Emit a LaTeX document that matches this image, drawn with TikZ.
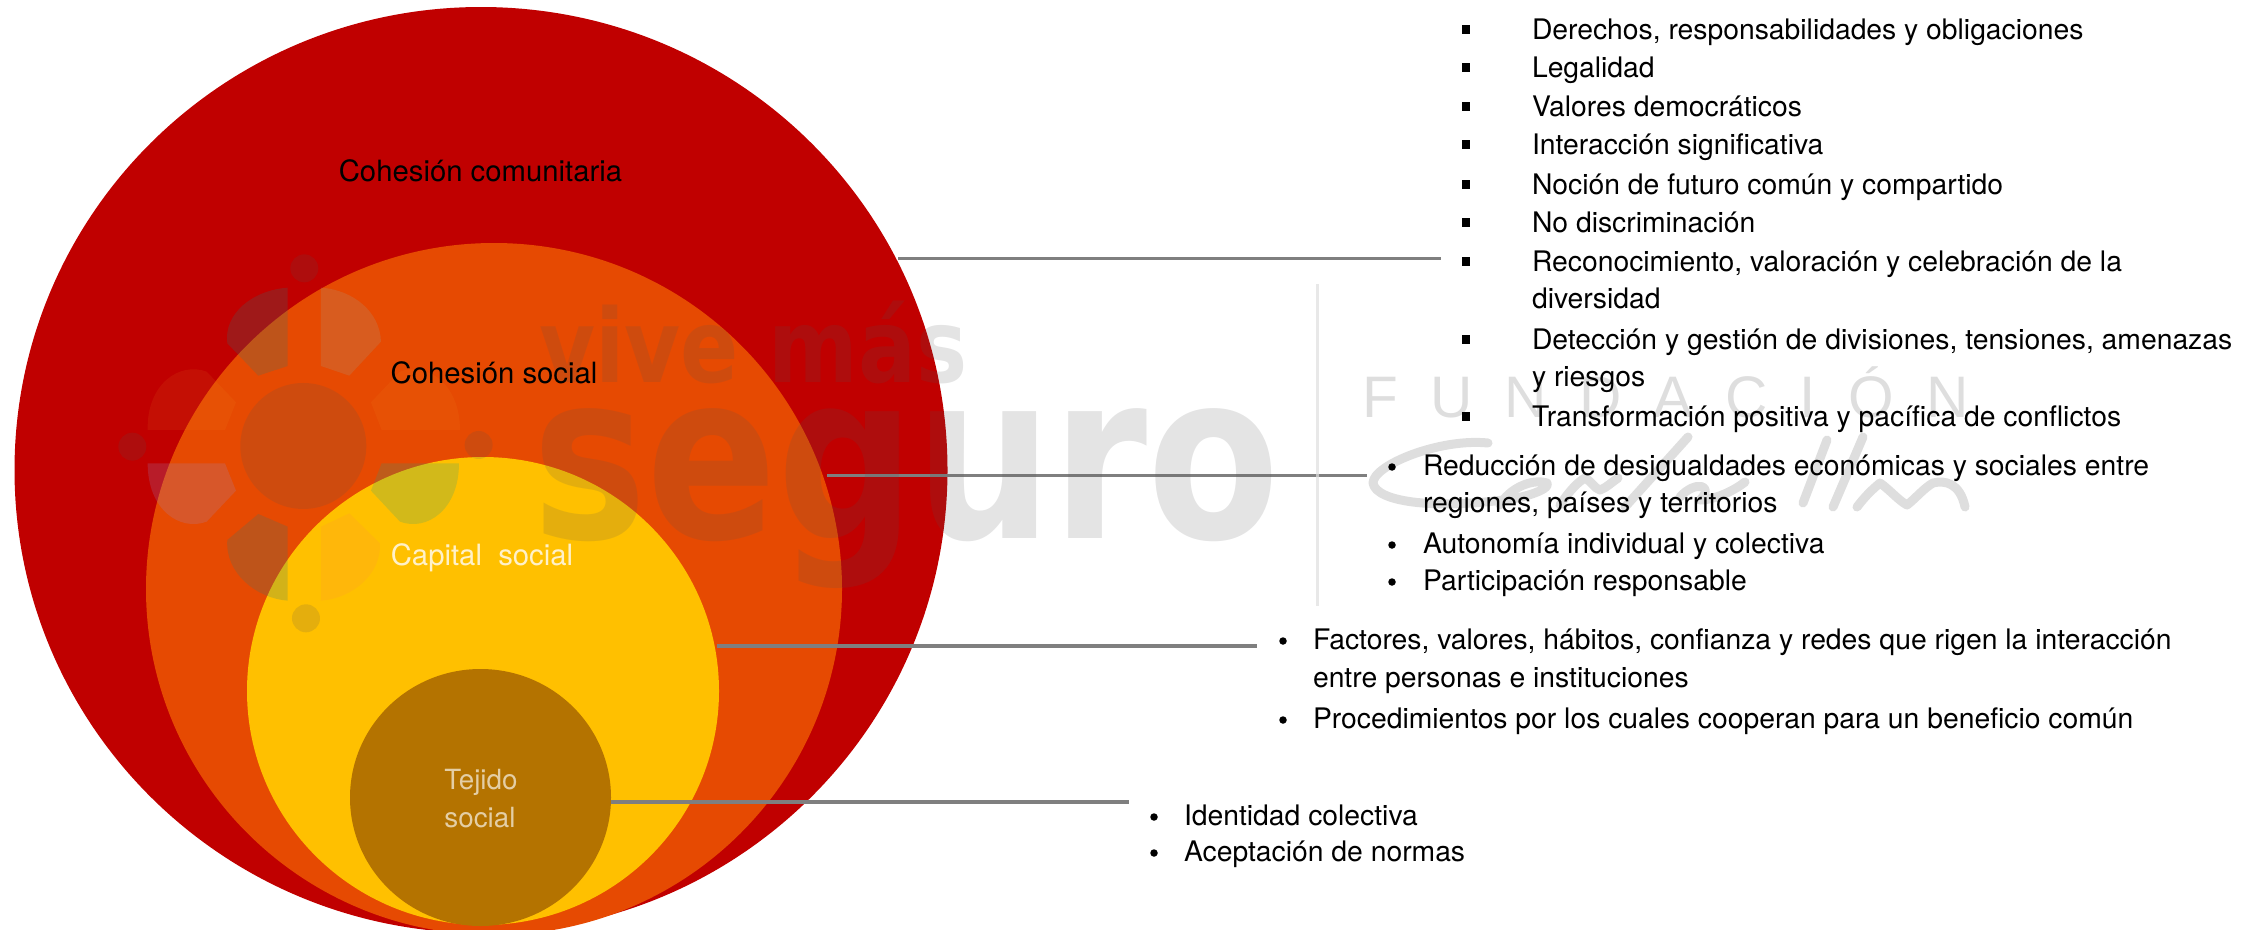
\documentclass[tikz,border=0pt]{standalone}
\usepackage{fontspec}
\usetikzlibrary{shapes.geometric}
\setmainfont{TeX Gyre Heros}
\newfontfamily\wmfont{DejaVu Sans}
\newfontfamily\fundfont[LetterSpace=55]{Liberation Sans}
\definecolor{cred}{RGB}{192,0,0}
\definecolor{corange}{RGB}{230,74,2}
\definecolor{cyellow}{RGB}{255,192,0}
\definecolor{cbrown}{RGB}{180,115,0}
\definecolor{wmgray}{RGB}{83,83,83}
\definecolor{leadgray}{RGB}{127,127,127}
\definecolor{pale}{RGB}{222,222,222}
\definecolor{pTeal}{RGB}{30,125,125}
\definecolor{pGray}{RGB}{160,165,150}
\definecolor{pAmber}{RGB}{240,150,40}
\definecolor{pLilac}{RGB}{155,140,205}
\definecolor{pGreen}{RGB}{30,160,130}
\definecolor{pRose}{RGB}{255,110,100}
\tikzset{
  ring/.style={ellipse,draw=none,inner sep=0pt,outer sep=0pt},
  leader/.style={draw=leadgray,line width=3.2pt},
  txt/.style={anchor=base west,inner sep=0pt,outer sep=0pt,yshift=-.8pt,font=\fontsize{28.3}{34}\selectfont},
  ctxt/.style={anchor=base,inner sep=0pt,outer sep=0pt,yshift=-.8pt,font=\fontsize{29.3}{34}\selectfont},
  ttxt/.style={anchor=base,inner sep=0pt,outer sep=0pt,yshift=-.8pt,font=\fontsize{27.8}{34}\selectfont,text={rgb,255:red,228;green,206;blue,165}},
  sqbul/.style={rectangle,fill=black,inner sep=0pt,minimum width=8pt,minimum height=9pt},
  rbul/.style={circle,fill=black,inner sep=0pt,minimum size=7.5pt},
  wmark/.style={fill=wmgray,fill opacity=.157},
  wmtext/.style={anchor=base west,inner sep=0pt,outer sep=0pt,text=wmgray,text opacity=.157,transform shape},
  sig/.style={draw=pale,line width=9pt,line cap=round,line join=round},
  p1/.style={fill=pTeal,fill opacity=.2},
  p2/.style={fill=pGray,fill opacity=.2},
  p3/.style={fill=pAmber,fill opacity=.1},
  p4/.style={fill=pLilac,fill opacity=.2},
  p5/.style={fill=pGreen,fill opacity=.2},
  p6/.style={fill=pRose,fill opacity=.1},
}
\newcommand{\sqline}[3]{\node[sqbul] (#1b) at (1466,#2-10) {}; \node[txt] (#1) at (1532,#2) {#3};}
\newcommand{\plainline}[4]{\node[txt] (#1) at (#2,#3) {#4};}
\newcommand{\rline}[5]{\node[rbul] (#1b) at (#2,#4-8) {}; \node[txt] (#1) at (#3,#4) {#5};}
\begin{document}
\begin{tikzpicture}[x=1pt,y=-1pt]
\clip (0,0) rectangle (2253,929);
% rings
\node[ring,fill=cred,minimum width=933pt,minimum height=926pt] (outer) at (481,470) {};
\node[ring,fill=corange,minimum width=696pt,minimum height=692pt] (orange) at (494,589) {};
\node[ring,fill=cyellow,minimum width=472pt,minimum height=468pt] (yellow) at (483,691) {};
\node[ring,fill=cbrown,minimum width=261pt,minimum height=257pt] (brown) at (480.5,797.5) {};
% leader ends
\coordinate (e1) at (1441,260);
\coordinate (e2) at (1367,475);
\coordinate (e3) at (1257,646);
\coordinate (e4) at (1129,803);
\draw[leader] ([xshift=2pt]outer.27.25) -- (outer.27.25 -| e1);
\draw[leader] ([xshift=4pt]orange.19.13) -- (orange.19.13 -| e2);
\draw[leader] ([xshift=2pt]yellow.11) -- (yellow.11 -| e3);
\draw[leader] (brown.-2.5) -- (brown.-2.5 -| e4);
% watermark: logo
\begin{scope}[shift={(110,240)},x=.3333pt,y=-.3333pt]
\fill[wmark] (580,618) circle [radius=189pt*.3333];
\fill[wmark] (583,85) circle [radius=14pt];
\fill[wmark] (67,620) circle [radius=14pt];
\fill[wmark] (1106,615) circle [radius=14pt];
\fill[wmark] (588,1135) circle [radius=14pt];
\fill[p1] (533,143) -- (533,378) -- (445,407) -- (352,310) .. controls (340,220) and (430,150) .. cycle;
\fill[p2] (633,143) -- (633,378) -- (718,407) -- (813,305) .. controls (810,215) and (730,150) .. cycle;
\fill[p3] (113,570) -- (345,570) -- (378,487) -- (290,395) .. controls (210,365) and (110,430) .. cycle;
\fill[p3] (1050,570) -- (815,570) -- (783,487) -- (870,395) .. controls (950,365) and (1050,430) .. cycle;
\fill[p4] (113,670) -- (345,670) -- (378,752) -- (290,845) .. controls (210,875) and (113,810) .. cycle;
\fill[p5] (1047,670) -- (815,670) -- (783,752) -- (870,845) .. controls (950,875) and (1047,810) .. cycle;
\fill[p1] (533,1082) -- (533,860) -- (445,822) -- (352,900) .. controls (345,1000) and (440,1075) .. cycle;
\fill[p6] (633,1082) -- (633,860) -- (718,820) -- (810,910) .. controls (815,1000) and (730,1075) .. cycle;
\end{scope}
% watermark: words
\node[wmtext,xscale=.843,font=\wmfont\bfseries\fontsize{102}{110}\selectfont] (wmvive) at (539,382) {vive más};
\node[wmtext,xscale=.831,font=\wmfont\bfseries\fontsize{232}{240}\selectfont] (wmseg) at (532,538) {seguro};
\draw[draw=pale,opacity=.7,line width=3pt] (1317,284) -- (1317,606);
\node[anchor=base west,inner sep=0pt,text=pale,font=\fundfont\fontsize{58.6}{64}\selectfont] (wmfund) at (1362,417) {FUNDACIÓN};
% watermark: signature
\draw[sig] (1488,443) .. controls (1440,438) and (1373,465) .. (1373,483) .. controls (1376,503) and (1440,510) .. (1517,498) .. controls (1535,494) and (1550,488) .. (1547,483) .. controls (1530,478) and (1508,490) .. (1500,505);
\draw[sig] (1560,505) .. controls (1570,490) and (1578,482) .. (1585,478) .. controls (1592,482) and (1594,488) .. (1600,490) .. controls (1606,488) and (1612,482) .. (1618,478);
\draw[sig] (1688,437) -- (1625,507);
\draw[sig] (1680,497) .. controls (1695,480) and (1715,485) .. (1700,500) .. controls (1715,500) and (1735,490) .. (1745,482);
\draw[sig] (1827,440) -- (1803,503);
\draw[sig] (1863,437) -- (1833,507);
\draw[sig] (1857,507) .. controls (1866,495) and (1874,488) .. (1880,483) .. controls (1890,490) and (1898,500) .. (1907,505) .. controls (1916,498) and (1924,488) .. (1933,483) .. controls (1945,480) and (1960,483) .. (1965,507);
% circle labels
\node[ctxt] (lcom) at (480.5,181) {Cohesión comunitaria};
\node[ctxt] (lcoh) at (494,383) {Cohesión social};
\node[ctxt,text={rgb,255:red,255;green,241;blue,201}] (lcap) at (482,565) {Capital\ \ social};
\node[ttxt] (lte1) at (481,789) {Tejido};
\node[ttxt] (lte2) at (480,827) {social};
% list 1
\sqline{aa}{39}{Derechos, responsabilidades y obligaciones}
\sqline{ab}{77}{Legalidad}
\sqline{ac}{116}{Valores democráticos}
\sqline{ad}{154}{Interacción significativa}
\sqline{ae}{194}{Noción de futuro común y compartido}
\sqline{af}{232}{No discriminación}
\sqline{ag}{271}{Reconocimiento, valoración y celebración de la}
\plainline{ah}{1532}{308}{diversidad}
\sqline{ai}{349}{Detección y gestión de divisiones, tensiones, amenazas}
\plainline{aj}{1532}{386}{y riesgos}
\sqline{ak}{426}{Transformación positiva y pacífica de conflictos}
% list 2
\rline{ba}{1392}{1423}{475}{Reducción de desigualdades económicas y sociales entre}
\plainline{bb}{1423}{512}{regiones, países y territorios}
\rline{bc}{1392}{1423}{553}{Autonomía individual y colectiva}
\rline{bd}{1392}{1423}{590}{Participación responsable}
% list 3
\rline{ca}{1283}{1313}{649}{Factores, valores, hábitos, confianza y redes que rigen la interacción}
\plainline{cb}{1313}{687}{entre personas e instituciones}
\rline{cc}{1283}{1313}{728}{Procedimientos por los cuales cooperan para un beneficio común}
% list 4
\rline{da}{1154}{1184}{825}{Identidad colectiva}
\rline{db}{1154}{1184}{861}{Aceptación de normas}
\end{tikzpicture}
\end{document}
